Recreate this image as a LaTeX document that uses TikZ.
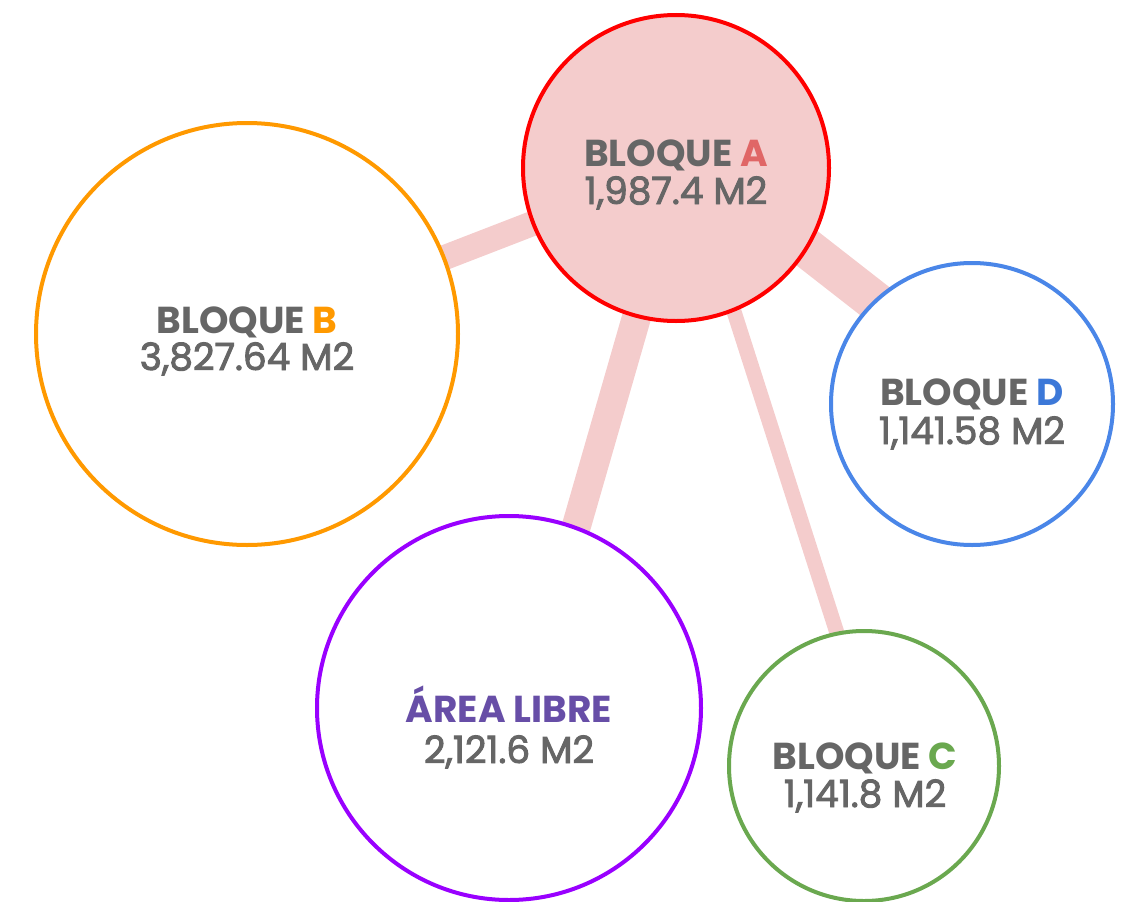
\documentclass[tikz,border=0pt]{standalone}
\usepackage{fontspec}
\setmainfont{Poppins}
\newfontfamily\valfont[FakeBold=2.5]{Poppins}
\definecolor{txt}{HTML}{666666}
\definecolor{linkc}{HTML}{F4CCCC}
\definecolor{colA}{HTML}{FF0000}
\definecolor{letA}{HTML}{E06666}
\definecolor{colB}{HTML}{FF9900}
\definecolor{colD}{HTML}{4A86E8}
\definecolor{letD}{HTML}{3C78D8}
\definecolor{colE}{HTML}{9900FF}
\definecolor{letE}{HTML}{674EA7}
\definecolor{colC}{HTML}{6AA84F}
\tikzset{
  bubble/.style={circle, draw, line width=4pt, inner sep=0pt, fill=white},
  link/.style={draw=linkc, line cap=butt},
  ttl/.style={anchor=base, text=txt, font=\fontsize{37.5}{38}\selectfont\bfseries, inner sep=0pt},
  val/.style={anchor=base, text=txt, font=\fontsize{37.5}{38}\selectfont\valfont, inner sep=0pt},
}
\begin{document}
\begin{tikzpicture}[x=1pt,y=-1pt]
\useasboundingbox (0,0) rectangle (1138,902);
% circle centres
\coordinate (Ac) at (676,168);
\coordinate (Bc) at (247,334);
\coordinate (Dc) at (972,404);
\coordinate (Ec) at (509,708);
\coordinate (Cc) at (864,766);
% connectors
\draw[link, line width=25pt] (Ac) -- (Bc);
\draw[link, line width=40pt] ([yshift=22pt]Ac) -- ([yshift=27pt]Dc);
\draw[link, line width=29pt] ([xshift=3.5pt]Ac) -- ([xshift=15pt]Ec);
\draw[link, line width=15pt] ([xshift=12pt]Ac) -- ([xshift=15.6pt]Cc);
% circles
\node[bubble, draw=colA, fill=linkc, minimum size=306pt] (A) at (Ac) {};
\node[bubble, draw=colB, minimum size=422pt] (B) at (Bc) {};
\node[bubble, draw=colD, minimum size=282pt] (D) at (Dc) {};
\node[bubble, draw=colE, minimum size=384pt] (E) at (Ec) {};
\node[bubble, draw=colC, minimum size=270pt] (C) at (Cc) {};
% texts
\node[ttl] (tA) at (676,166) {BLOQUE \textcolor{letA}{A}};
\node[val] (vA) at (676,204) {1,987.4 M2};
\node[ttl] (tB) at (247,333) {BLOQUE \textcolor{colB}{B}};
\node[val] (vB) at (247,370) {3,827.64 M2};
\node[ttl] (tD) at (972,405) {BLOQUE \textcolor{letD}{D}};
\node[val] (vD) at (972,444) {1,141.58 M2};
\node[ttl] (tE) at (509,722) {\textcolor{letE}{ÁREA LIBRE}};
\node[val] (vE) at (509,763) {2,121.6 M2};
\node[ttl] (tC) at (865,769) {BLOQUE \textcolor{colC}{C}};
\node[val] (vC) at (865,807) {1,141.8 M2};
\end{tikzpicture}
\end{document}
